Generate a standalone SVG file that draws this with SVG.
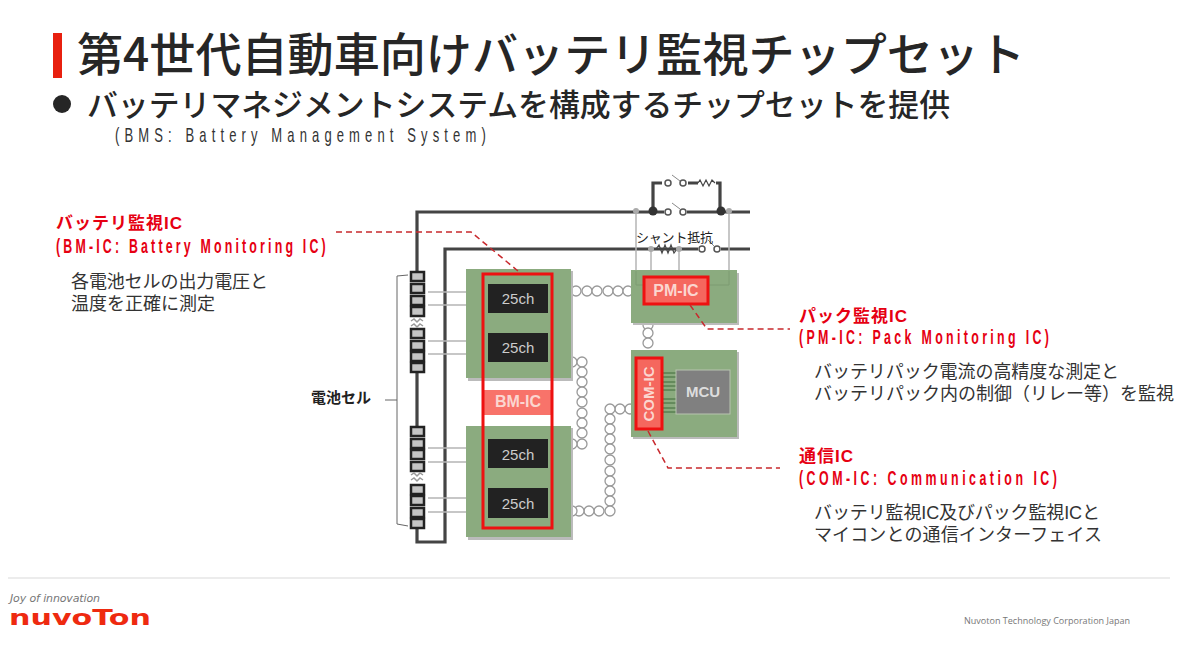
<svg xmlns="http://www.w3.org/2000/svg" width="1181" height="647" viewBox="0 0 1181 647">
<style>
text{font-family:"Liberation Sans","Noto Sans CJK JP",sans-serif}
.ttl{fill:#262626;font-weight:500}
.red{fill:#e60012;font-weight:700;font-size:17px}
.en{fill:#e60012;font-weight:700;font-size:20px}
.body{fill:#333;font-size:18px}
.green{fill:#8bab7f}
.shadow{fill:#bbb}
.chip{fill:#222}
.chipt{fill:#ccc;font-size:15px;text-anchor:middle}
.ict{fill:#fbd6d0;font-size:16px;font-weight:700;text-anchor:middle}
.redbox{fill:#f5675e;stroke:#ee1111;stroke-width:3}
.wire{fill:none;stroke:#444;stroke-width:3.2}
.thin{fill:none;stroke:#444;stroke-width:1.2}
.tap{fill:none;stroke:#b5b5b5;stroke-width:1.5}
.lead{fill:none;stroke:#c8282d;stroke-width:1.5;stroke-dasharray:6 4}
.pearl{fill:#fff;stroke:#999;stroke-width:1.3}
.cell{fill:#c4c4c4;stroke:#222;stroke-width:2.5}
.sw{fill:#fff;stroke:#555;stroke-width:1.5}
.dot{fill:#333}
.gdot{fill:#aaa}
</style>
<rect width="1181" height="647" fill="#fff"/>
<g id="title">
<rect x="53" y="33" width="9" height="45" fill="#e8200f"/>
<text class="ttl" x="77" y="71" font-size="46" textLength="948" lengthAdjust="spacingAndGlyphs" style="font-family:'Noto Sans CJK JP',sans-serif">第4世代自動車向けバッテリ監視チップセット</text>
<circle cx="62" cy="104" r="9" fill="#262626"/>
<text class="ttl" x="87" y="116" font-size="31" textLength="863" lengthAdjust="spacingAndGlyphs" style="font-family:'Noto Sans CJK JP',sans-serif">バッテリマネジメントシステムを構成するチップセットを提供</text>
<text transform="translate(115 142) scale(.62 1)" fill="#333" font-size="21" textLength="598" lengthAdjust="spacing">(BMS: Battery Management System)</text>
</g>
<g id="connectors">
<path class="wire" d="M750 212H417V272M417 372V427M417 528V542H445V249H750"/>
<path class="wire" d="M653 212V183H662M688 183H698M716 183H720V212"/>
<path class="thin" d="M698 183l2-3 3 6 3-6 3 6 3-6 3 3"/>
<path class="thin" d="M656 249l3-4 3 8 3-8 3 8 3-8 3 8 3-4"/>
<path class="tap" d="M636 212V271M729 212V283H708M651 249V277M679 249V277"/>
<path class="tap" d="M428 292H483M428 305H483M428 341H483M428 354H483M428 448H483M428 462H483M428 498H483M428 512H483"/>
<path fill="none" stroke="#666" stroke-width="1" d="M408 275L397 276V524L408 526M385 400H397"/>
<g id="pearls">
<circle class="pearl" cx="576" cy="291" r="5"/><circle class="pearl" cx="587" cy="291" r="5"/><circle class="pearl" cx="597" cy="291" r="5"/><circle class="pearl" cx="608" cy="291" r="5"/><circle class="pearl" cx="618" cy="291" r="5"/><circle class="pearl" cx="628" cy="291" r="5"/>
<circle class="pearl" cx="648" cy="325" r="5"/><circle class="pearl" cx="648" cy="333" r="5"/><circle class="pearl" cx="648" cy="343" r="5"/>
<circle class="pearl" cx="572" cy="362" r="5"/><circle class="pearl" cx="582" cy="362" r="5"/><circle class="pearl" cx="582" cy="372" r="5"/><circle class="pearl" cx="582" cy="382" r="5"/><circle class="pearl" cx="582" cy="392" r="5"/><circle class="pearl" cx="582" cy="402" r="5"/><circle class="pearl" cx="582" cy="413" r="5"/><circle class="pearl" cx="582" cy="423" r="5"/><circle class="pearl" cx="582" cy="433" r="5"/><circle class="pearl" cx="582" cy="444" r="5"/><circle class="pearl" cx="572" cy="444" r="5"/>
<circle class="pearl" cx="630" cy="409" r="5"/><circle class="pearl" cx="620" cy="409" r="5"/><circle class="pearl" cx="610" cy="409" r="5"/><circle class="pearl" cx="610" cy="419" r="5"/><circle class="pearl" cx="610" cy="429" r="5"/><circle class="pearl" cx="610" cy="439" r="5"/><circle class="pearl" cx="610" cy="449" r="5"/><circle class="pearl" cx="610" cy="460" r="5"/><circle class="pearl" cx="610" cy="471" r="5"/><circle class="pearl" cx="610" cy="481" r="5"/><circle class="pearl" cx="610" cy="491" r="5"/><circle class="pearl" cx="610" cy="501" r="5"/><circle class="pearl" cx="610" cy="511" r="5"/><circle class="pearl" cx="599" cy="511" r="5"/><circle class="pearl" cx="589" cy="511" r="5"/><circle class="pearl" cx="579" cy="511" r="5"/><circle class="pearl" cx="572" cy="511" r="5"/>
</g>
</g>
<g id="battery-cells">
<g id="cells-a"><rect class="cell" x="411" y="272" width="13" height="9"/><rect class="cell" x="411" y="284" width="13" height="9"/><rect class="cell" x="411" y="296" width="13" height="9"/><rect class="cell" x="411" y="307" width="13" height="9"/>
<rect class="cell" x="411" y="329" width="13" height="9"/><rect class="cell" x="411" y="341" width="13" height="9"/><rect class="cell" x="411" y="352" width="13" height="9"/><rect class="cell" x="411" y="363" width="13" height="9"/></g>
<g id="cells-b"><rect class="cell" x="411" y="427" width="13" height="9"/><rect class="cell" x="411" y="439" width="13" height="9"/><rect class="cell" x="411" y="450" width="13" height="9"/><rect class="cell" x="411" y="462" width="13" height="9"/>
<rect class="cell" x="411" y="485" width="13" height="9"/><rect class="cell" x="411" y="496" width="13" height="9"/><rect class="cell" x="411" y="508" width="13" height="9"/><rect class="cell" x="411" y="519" width="13" height="9"/></g>
<path fill="none" stroke="#999" stroke-width="1.5" d="M411 321l3-2 3 3 3-3 3 2M411 326l3-2 3 3 3-3 3 2M411 475l3-2 3 3 3-3 3 2M411 480l3-2 3 3 3-3 3 2"/>
<text x="311" y="403" font-size="15" font-weight="700" fill="#222" textLength="60">電池セル</text>
</g>
<g id="bm-block-top"><rect class="shadow" x="468" y="271" width="105" height="110"/><rect class="green" x="466" y="269" width="105" height="109"/></g>
<g id="bm-block-bottom"><rect class="shadow" x="468" y="428" width="105" height="112"/><rect class="green" x="466" y="426" width="105" height="111"/></g>
<g id="bm-ic">
<rect x="483" y="390" width="69" height="25" fill="#f8736a"/>
<text class="ict" x="518" y="407">BM-IC</text>
<rect x="483" y="274" width="69" height="254" fill="none" stroke="#ee1111" stroke-width="3"/>
</g>
<g id="chip-1"><rect class="chip" x="488" y="284" width="60" height="29"/><text class="chipt" x="518" y="304">25ch</text></g>
<g id="chip-2"><rect class="chip" x="488" y="333" width="60" height="29"/><text class="chipt" x="518" y="353">25ch</text></g>
<g id="chip-3"><rect class="chip" x="488" y="439" width="60" height="29"/><text class="chipt" x="518" y="460">25ch</text></g>
<g id="chip-4"><rect class="chip" x="488" y="488" width="60" height="30"/><text class="chipt" x="518" y="509">25ch</text></g>
<g id="pm-ic">
<rect class="shadow" x="633" y="273" width="106" height="52"/><rect class="green" x="631" y="270" width="106" height="53"/>
<path fill="none" stroke="#7d9b73" stroke-width="1" d="M636 271V285H644M729 271V285H708"/>
<rect class="redbox" x="644" y="277" width="64" height="27"/>
<text class="ict" x="676" y="296">PM-IC</text>
</g>
<g id="com-mcu">
<rect class="shadow" x="633" y="352" width="106" height="87"/><rect class="green" x="631" y="350" width="106" height="87"/>
<path stroke="#3f6a3a" stroke-width="1" d="M663 373H676M663 377H676M663 382H676M663 386H676M663 390H676M663 399H676M663 403H676M663 408H676M663 412H676"/>
<rect class="redbox" x="636" y="358" width="26" height="71"/>
<text class="ict" transform="translate(654 394) rotate(-90)" style="font-size:15px">COM-IC</text>
<rect x="676" y="370" width="54" height="44" fill="#808080" stroke="#b8c4b0" stroke-width="1"/>
<text class="ict" x="703" y="397" style="fill:#ddd;font-size:15px">MCU</text>
</g>
<g id="switches">
<circle class="gdot" cx="636" cy="211" r="3"/><circle class="gdot" cx="729" cy="211" r="3"/><circle class="gdot" cx="651" cy="249" r="3"/><circle class="gdot" cx="679" cy="249" r="3"/>
<circle class="dot" cx="653" cy="211" r="4.5"/><circle class="dot" cx="721" cy="211" r="4.5"/>
<rect x="664" y="205" width="23" height="14" fill="#fff"/><rect x="698" y="243" width="23" height="12" fill="#fff"/>
<circle class="sw" cx="668" cy="183" r="3"/><circle class="sw" cx="683" cy="183" r="3"/><path stroke="#888" d="M672 175L680 181"/>
<circle class="sw" cx="668" cy="212" r="3"/><circle class="sw" cx="683" cy="212" r="3"/><path stroke="#888" d="M672 203L680 209"/>
<circle class="sw" cx="702" cy="249" r="3"/><circle class="sw" cx="717" cy="249" r="3"/><path stroke="#888" d="M708 240L714 246"/>
<text x="636" y="242" font-size="13" fill="#222" textLength="77">シャント抵抗</text>
</g>
<g id="leaders">
<path class="lead" d="M336 232H471L518 271"/>
<path class="lead" d="M690 305L707 329H790"/>
<path class="lead" d="M648 431L668 468H780"/>
</g>
<g id="label-bm">
<text class="red" x="56" y="229" textLength="126">バッテリ監視IC</text>
<text class="en" transform="translate(56 253) scale(.62 1)" textLength="435" lengthAdjust="spacing">(BM-IC: Battery Monitoring IC)</text>
<text class="body" x="71" y="288" textLength="197">各電池セルの出力電圧と</text>
<text class="body" x="71" y="310" textLength="144">温度を正確に測定</text>
</g>
<g id="label-pm">
<text class="red" x="799" y="322" textLength="108">パック監視IC</text>
<text class="en" transform="translate(799 344) scale(.62 1)" textLength="403" lengthAdjust="spacing">(PM-IC: Pack Monitoring IC)</text>
<text class="body" x="814" y="378" textLength="305">バッテリパック電流の高精度な測定と</text>
<text class="body" x="814" y="400" textLength="360">バッテリパック内の制御（リレー等）を監視</text>
</g>
<g id="label-com">
<text class="red" x="799" y="462" textLength="54">通信IC</text>
<text class="en" transform="translate(799 485) scale(.62 1)" textLength="416" lengthAdjust="spacing">(COM-IC: Communication IC)</text>
<text class="body" x="814" y="519" textLength="286">バッテリ監視IC及びパック監視ICと</text>
<text class="body" x="814" y="541" textLength="288">マイコンとの通信インターフェイス</text>
</g>
<g id="footer">
<path stroke="#e6e6e6" stroke-width="1.5" d="M8 578H1170"/>
<text x="10" y="602" font-size="11" font-style="italic" fill="#777" textLength="90" style="font-family:'DejaVu Sans',sans-serif">Joy of innovation</text>
<text x="9" y="625" font-size="22" font-weight="700" fill="#ee2a10" textLength="142" lengthAdjust="spacingAndGlyphs" style="font-family:'DejaVu Sans',sans-serif">nuvoTon</text>
<text x="964" y="624" font-size="9" fill="#777" textLength="166" style="font-family:'Open Sans',sans-serif">Nuvoton Technology Corporation Japan</text>
</g>
</svg>
